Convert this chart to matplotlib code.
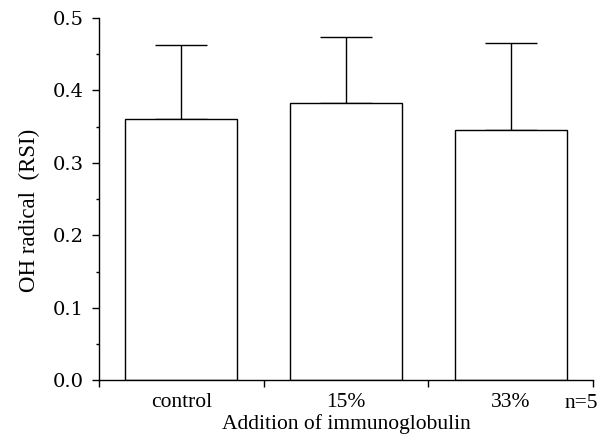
import numpy as np
import matplotlib
matplotlib.use('Agg')
import matplotlib.pyplot as plt
from matplotlib.ticker import MultipleLocator, FixedLocator, FormatStrFormatter

categories = ['control', '15%', '33%']
means = [0.361, 0.382, 0.345]
errors = [0.101, 0.092, 0.120]

plt.rcParams['font.family'] = ['Liberation Serif', 'DejaVu Serif']

fig = plt.figure(figsize=(6.15, 4.37), dpi=100)
ax = fig.add_axes([0.161, 0.130, 0.803, 0.829])

x = np.arange(len(categories)) + 0.5
ax.bar(x, means, width=0.68, color='white', edgecolor='black', linewidth=1.0, zorder=2)
ax.errorbar(x, means, yerr=[np.zeros(len(errors)), errors], fmt='none',
            ecolor='black', elinewidth=1.0, capsize=19, capthick=1.0, zorder=1)

ax.set_xlim(0, 3)
ax.set_ylim(0, 0.5)
ax.spines['top'].set_visible(False)
ax.spines['right'].set_visible(False)
ax.spines['left'].set_linewidth(1.0)
ax.spines['bottom'].set_linewidth(1.0)

# category boundaries as major ticks, names on minor ticks
ax.xaxis.set_major_locator(FixedLocator([0, 1, 2, 3]))
ax.xaxis.set_major_formatter(plt.NullFormatter())
ax.set_xticks(x, categories, minor=True)
ax.tick_params(axis='x', which='major', direction='out', length=5, width=1.0)
ax.tick_params(axis='x', which='minor', length=0, pad=9, labelsize=15.5)

ax.yaxis.set_major_locator(FixedLocator([0.0, 0.1, 0.2, 0.3, 0.4, 0.5]))
ax.yaxis.set_major_formatter(FormatStrFormatter('%.1f'))
ax.yaxis.set_minor_locator(MultipleLocator(0.05))
ax.tick_params(axis='y', which='major', direction='out', length=5, width=1.0,
               pad=6, labelsize=14, labelfontfamily='DejaVu Serif')
ax.tick_params(axis='y', which='minor', direction='out', length=2.5, width=1.0)

ax.set_xlabel('Addition of immunoglobulin', fontsize=15.5)
ax.xaxis.set_label_coords(0.5, -0.093)
ax.set_ylabel('OH radical  (RSI)', fontsize=16.5)
ax.yaxis.set_label_coords(-0.12, 0.47)
ax.text(2.927, -0.032, 'n=5', fontsize=15.5, ha='center', va='center')

fig.savefig('out.png', dpi=100)
